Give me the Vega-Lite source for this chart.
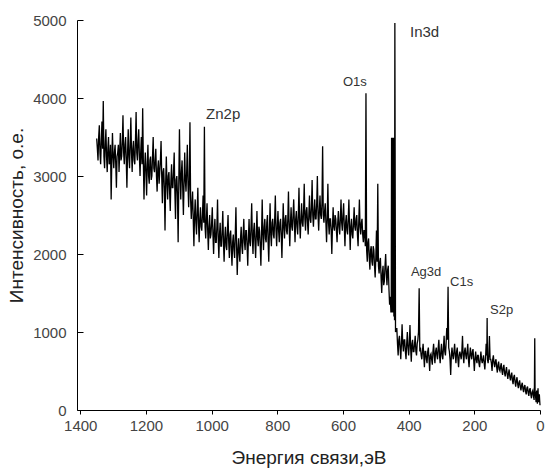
{
  "$schema": "https://vega.github.io/schema/vega-lite/v6.json",
  "width": 463,
  "height": 390,
  "autosize": {"type": "none"},
  "padding": {"left": 77, "top": 20, "right": 5, "bottom": 61},
  "background": "white",
  "config": {"view": {"stroke": null}},
  "datasets": {
    "spec": [
      {"e":1350,"i":3480},{"e":1348,"i":3350},{"e":1346,"i":3200},{"e":1344,"i":3500},{"e":1342,"i":3650},{"e":1340,"i":3300},{"e":1338,"i":3150},{"e":1336,"i":3450},{"e":1334,"i":3700},{"e":1332,"i":3350},{"e":1330,"i":3960},{"e":1328,"i":3250},{"e":1326,"i":3100},{"e":1324,"i":3400},{"e":1322,"i":3600},{"e":1320,"i":3250},{"e":1318,"i":3050},{"e":1316,"i":3350},{"e":1314,"i":3500},{"e":1312,"i":3150},{"e":1310,"i":3200},{"e":1308,"i":3400},{"e":1306,"i":2700},{"e":1304,"i":3200},{"e":1302,"i":3550},{"e":1300,"i":3250},{"e":1298,"i":3100},{"e":1296,"i":3300},{"e":1294,"i":3400},{"e":1292,"i":3150},{"e":1290,"i":2850},{"e":1288,"i":3250},{"e":1286,"i":3300},{"e":1284,"i":3400},{"e":1282,"i":3050},{"e":1280,"i":3300},{"e":1278,"i":3550},{"e":1276,"i":3200},{"e":1274,"i":3250},{"e":1272,"i":3450},{"e":1270,"i":3780},{"e":1268,"i":3300},{"e":1266,"i":3150},{"e":1264,"i":3400},{"e":1262,"i":3500},{"e":1260,"i":3200},{"e":1258,"i":2850},{"e":1256,"i":3300},{"e":1254,"i":3600},{"e":1252,"i":3250},{"e":1250,"i":3100},{"e":1248,"i":3400},{"e":1246,"i":3750},{"e":1244,"i":3300},{"e":1242,"i":3050},{"e":1240,"i":3350},{"e":1238,"i":3450},{"e":1236,"i":3200},{"e":1234,"i":3150},{"e":1232,"i":3450},{"e":1230,"i":3820},{"e":1228,"i":3300},{"e":1226,"i":3200},{"e":1224,"i":3450},{"e":1222,"i":3600},{"e":1220,"i":3250},{"e":1218,"i":3000},{"e":1216,"i":3300},{"e":1214,"i":3500},{"e":1212,"i":3150},{"e":1210,"i":3870},{"e":1208,"i":3200},{"e":1206,"i":2700},{"e":1204,"i":3100},{"e":1202,"i":3300},{"e":1200,"i":3050},
      {"e":1198,"i":2750},{"e":1196,"i":3150},{"e":1194,"i":3400},{"e":1192,"i":3000},{"e":1190,"i":2900},{"e":1188,"i":3200},{"e":1186,"i":3250},{"e":1184,"i":2950},{"e":1182,"i":3000},{"e":1180,"i":3250},{"e":1178,"i":3500},{"e":1176,"i":3100},{"e":1174,"i":3050},{"e":1172,"i":3200},{"e":1170,"i":3350},{"e":1168,"i":3000},{"e":1166,"i":2800},{"e":1164,"i":3100},{"e":1162,"i":3200},{"e":1160,"i":2900},{"e":1158,"i":3050},{"e":1156,"i":3200},{"e":1154,"i":3450},{"e":1152,"i":3000},{"e":1150,"i":2650},{"e":1148,"i":3050},{"e":1146,"i":3100},{"e":1144,"i":2850},{"e":1142,"i":2300},{"e":1140,"i":2900},{"e":1138,"i":3250},{"e":1136,"i":2900},{"e":1134,"i":2700},{"e":1132,"i":3000},{"e":1130,"i":3050},{"e":1128,"i":2800},{"e":1126,"i":2550},{"e":1124,"i":2950},{"e":1122,"i":3150},{"e":1120,"i":2850},{"e":1118,"i":2850},{"e":1116,"i":3050},{"e":1114,"i":3300},{"e":1112,"i":2800},{"e":1110,"i":2450},{"e":1108,"i":2950},{"e":1106,"i":3000},{"e":1104,"i":2750},{"e":1102,"i":2150},{"e":1100,"i":2900},
      {"e":1098,"i":3600},{"e":1096,"i":3000},{"e":1094,"i":2700},{"e":1092,"i":3050},{"e":1090,"i":3200},{"e":1088,"i":2850},{"e":1086,"i":2500},{"e":1084,"i":2900},{"e":1082,"i":3300},{"e":1080,"i":2950},{"e":1078,"i":2800},{"e":1076,"i":3050},{"e":1074,"i":3400},{"e":1072,"i":2900},{"e":1070,"i":2600},{"e":1068,"i":2950},{"e":1066,"i":3690},{"e":1064,"i":2700},{"e":1062,"i":2450},{"e":1060,"i":2650},{"e":1058,"i":2800},{"e":1056,"i":2450},{"e":1054,"i":2100},{"e":1052,"i":2500},{"e":1050,"i":2700},{"e":1048,"i":2400},{"e":1046,"i":2250},{"e":1044,"i":2550},{"e":1042,"i":2850},{"e":1040,"i":2400},{"e":1038,"i":2150},{"e":1036,"i":2450},{"e":1034,"i":2600},{"e":1032,"i":2350},{"e":1030,"i":2300},{"e":1028,"i":2500},{"e":1026,"i":2750},{"e":1024,"i":2400},{"e":1022,"i":3630},{"e":1020,"i":2350},{"e":1018,"i":2200},{"e":1016,"i":2450},{"e":1014,"i":2650},{"e":1012,"i":2300},{"e":1010,"i":2050},{"e":1008,"i":2350},{"e":1006,"i":2500},{"e":1004,"i":2200},{"e":1002,"i":2250},{"e":1000,"i":2400},
      {"e":998,"i":2600},{"e":996,"i":2250},{"e":994,"i":2000},{"e":992,"i":2300},{"e":990,"i":2450},{"e":988,"i":2150},{"e":986,"i":2150},{"e":984,"i":2350},{"e":982,"i":2700},{"e":980,"i":2200},{"e":978,"i":1950},{"e":976,"i":2250},{"e":974,"i":2400},{"e":972,"i":2100},{"e":970,"i":2100},{"e":968,"i":2300},{"e":966,"i":2550},{"e":964,"i":2150},{"e":962,"i":1900},{"e":960,"i":2200},{"e":958,"i":2350},{"e":956,"i":2100},{"e":954,"i":2050},{"e":952,"i":2300},{"e":950,"i":2500},{"e":948,"i":2150},{"e":946,"i":1950},{"e":944,"i":2250},{"e":942,"i":2300},{"e":940,"i":2050},{"e":938,"i":1850},{"e":936,"i":2150},{"e":934,"i":2250},{"e":932,"i":2050},{"e":930,"i":1950},{"e":928,"i":2250},{"e":926,"i":2600},{"e":924,"i":2100},{"e":922,"i":1730},{"e":920,"i":2050},{"e":918,"i":2200},{"e":916,"i":2000},{"e":914,"i":1900},{"e":912,"i":2200},{"e":910,"i":2350},{"e":908,"i":2100},{"e":906,"i":2000},{"e":904,"i":2250},{"e":902,"i":2450},{"e":900,"i":2150},
      {"e":898,"i":2050},{"e":896,"i":2300},{"e":894,"i":2300},{"e":892,"i":2100},{"e":890,"i":1850},{"e":888,"i":2200},{"e":886,"i":2450},{"e":884,"i":2150},{"e":882,"i":2100},{"e":880,"i":2350},{"e":878,"i":2650},{"e":876,"i":2200},{"e":874,"i":2000},{"e":872,"i":2300},{"e":870,"i":2400},{"e":868,"i":2150},{"e":866,"i":1950},{"e":864,"i":2250},{"e":862,"i":2550},{"e":860,"i":2200},{"e":858,"i":2100},{"e":856,"i":2350},{"e":854,"i":2300},{"e":852,"i":2100},{"e":850,"i":1850},{"e":848,"i":2250},{"e":846,"i":2700},{"e":844,"i":2250},{"e":842,"i":2050},{"e":840,"i":2350},{"e":838,"i":2450},{"e":836,"i":2200},{"e":834,"i":2150},{"e":832,"i":2400},{"e":830,"i":2500},{"e":828,"i":2150},{"e":826,"i":1900},{"e":824,"i":2300},{"e":822,"i":2650},{"e":820,"i":2250},{"e":818,"i":2100},{"e":816,"i":2400},{"e":814,"i":2450},{"e":812,"i":2250},{"e":810,"i":2200},{"e":808,"i":2450},{"e":806,"i":2750},{"e":804,"i":2300},{"e":802,"i":2100},{"e":800,"i":2350},
      {"e":798,"i":2550},{"e":796,"i":2300},{"e":794,"i":2150},{"e":792,"i":2400},{"e":790,"i":2450},{"e":788,"i":2250},{"e":786,"i":1950},{"e":784,"i":2300},{"e":782,"i":2650},{"e":780,"i":2350},{"e":778,"i":2200},{"e":776,"i":2450},{"e":774,"i":2500},{"e":772,"i":2300},{"e":770,"i":2250},{"e":768,"i":2450},{"e":766,"i":2800},{"e":764,"i":2350},{"e":762,"i":2100},{"e":760,"i":2400},{"e":758,"i":2600},{"e":756,"i":2350},{"e":754,"i":2300},{"e":752,"i":2500},{"e":750,"i":2700},{"e":748,"i":2400},{"e":746,"i":2150},{"e":744,"i":2450},{"e":742,"i":2550},{"e":740,"i":2350},{"e":738,"i":2250},{"e":736,"i":2500},{"e":734,"i":2850},{"e":732,"i":2400},{"e":730,"i":2200},{"e":728,"i":2450},{"e":726,"i":2650},{"e":724,"i":2400},{"e":722,"i":2350},{"e":720,"i":2550},{"e":718,"i":2900},{"e":716,"i":2450},{"e":714,"i":2300},{"e":712,"i":2550},{"e":710,"i":2600},{"e":708,"i":2400},{"e":706,"i":2250},{"e":704,"i":2500},{"e":702,"i":2750},{"e":700,"i":2450},
      {"e":698,"i":2400},{"e":696,"i":2600},{"e":694,"i":2950},{"e":692,"i":2500},{"e":690,"i":2350},{"e":688,"i":2550},{"e":686,"i":2700},{"e":684,"i":2450},{"e":682,"i":2450},{"e":680,"i":2650},{"e":678,"i":3000},{"e":676,"i":2500},{"e":674,"i":2300},{"e":672,"i":2550},{"e":670,"i":2750},{"e":668,"i":2500},{"e":666,"i":2450},{"e":664,"i":2650},{"e":662,"i":3380},{"e":660,"i":2500},{"e":658,"i":2400},{"e":656,"i":2550},{"e":654,"i":2650},{"e":652,"i":2400},{"e":650,"i":2150},{"e":648,"i":2450},{"e":646,"i":2900},{"e":644,"i":2400},{"e":642,"i":2250},{"e":640,"i":2450},{"e":638,"i":2450},{"e":636,"i":2300},{"e":634,"i":2000},{"e":632,"i":2350},{"e":630,"i":2600},{"e":628,"i":2350},{"e":626,"i":2300},{"e":624,"i":2500},{"e":622,"i":2450},{"e":620,"i":2300},{"e":618,"i":2150},{"e":616,"i":2400},{"e":614,"i":2550},{"e":612,"i":2350},{"e":610,"i":2250},{"e":608,"i":2450},{"e":606,"i":2700},{"e":604,"i":2400},{"e":602,"i":2300},{"e":600,"i":2500},
      {"e":598,"i":2650},{"e":596,"i":2350},{"e":594,"i":2100},{"e":592,"i":2400},{"e":590,"i":2500},{"e":588,"i":2300},{"e":586,"i":2250},{"e":584,"i":2450},{"e":582,"i":2700},{"e":580,"i":2350},{"e":578,"i":2050},{"e":576,"i":2350},{"e":574,"i":2450},{"e":572,"i":2250},{"e":570,"i":2200},{"e":568,"i":2400},{"e":566,"i":2600},{"e":564,"i":2350},{"e":562,"i":2300},{"e":560,"i":2450},{"e":558,"i":2500},{"e":556,"i":2250},{"e":554,"i":2100},{"e":552,"i":2400},{"e":550,"i":2700},{"e":548,"i":2350},{"e":546,"i":2250},{"e":544,"i":2400},{"e":542,"i":2450},{"e":540,"i":2250},{"e":538,"i":2150},{"e":536,"i":2300},
      {"e":534,"i":2300},{"e":532,"i":2100},{"e":530,"i":4060},{"e":528,"i":2050},{"e":526,"i":1900},{"e":524,"i":2150},{"e":522,"i":2200},{"e":520,"i":1950},{"e":518,"i":1800},{"e":516,"i":2050},{"e":514,"i":2100},{"e":512,"i":1900},{"e":510,"i":1850},{"e":508,"i":2100},{"e":506,"i":2050},{"e":504,"i":1850},{"e":502,"i":1700},{"e":500,"i":1950},{"e":498,"i":2300},{"e":496,"i":1900},{"e":494,"i":2900},{"e":492,"i":1850},{"e":490,"i":1750},{"e":488,"i":1900},{"e":486,"i":1950},{"e":484,"i":1700},{"e":482,"i":1500},{"e":480,"i":1750},{"e":478,"i":1850},{"e":476,"i":1600},{"e":474,"i":1650},{"e":472,"i":1850},{"e":470,"i":2000},{"e":468,"i":1750},{"e":466,"i":1600},{"e":464,"i":1800},{"e":462,"i":1850},{"e":460,"i":1550},{"e":458,"i":1350},{"e":456,"i":1450},{"e":454,"i":1250},
      {"e":453,"i":1300},{"e":452,"i":3490},{"e":451,"i":1250},{"e":450,"i":3490},{"e":449,"i":1300},{"e":448,"i":3490},{"e":447,"i":1250},{"e":446,"i":3490},{"e":445,"i":1200},{"e":444,"i":3490},{"e":443,"i":1150},{"e":442,"i":4960},{"e":440,"i":1000},
      {"e":436,"i":1050},{"e":434,"i":850},{"e":432,"i":700},{"e":430,"i":900},{"e":428,"i":950},{"e":426,"i":800},{"e":424,"i":650},{"e":422,"i":850},{"e":420,"i":1100},{"e":418,"i":850},{"e":416,"i":750},{"e":414,"i":900},{"e":412,"i":900},{"e":410,"i":750},{"e":408,"i":650},{"e":406,"i":850},{"e":404,"i":1000},{"e":402,"i":800},{"e":400,"i":700},{"e":398,"i":850},{"e":396,"i":1090},{"e":394,"i":800},{"e":392,"i":620},{"e":390,"i":850},{"e":388,"i":900},{"e":386,"i":750},{"e":384,"i":750},{"e":382,"i":850},{"e":380,"i":950},{"e":378,"i":750},{"e":376,"i":700},{"e":374,"i":850},{"e":372,"i":900},{"e":370,"i":1000},{"e":368,"i":1560},{"e":366,"i":750},{"e":364,"i":800},{"e":362,"i":700},{"e":360,"i":650},{"e":358,"i":750},{"e":356,"i":850},{"e":354,"i":700},{"e":352,"i":550},{"e":350,"i":750},{"e":348,"i":750},{"e":346,"i":650},{"e":344,"i":600},{"e":342,"i":750},{"e":340,"i":800},{"e":338,"i":650},{"e":336,"i":500},{"e":334,"i":700},{"e":332,"i":720},{"e":330,"i":650},{"e":328,"i":580},{"e":326,"i":750},{"e":324,"i":850},{"e":322,"i":700},{"e":320,"i":600},{"e":318,"i":750},{"e":316,"i":800},{"e":314,"i":700},{"e":312,"i":650},{"e":310,"i":800},{"e":308,"i":900},{"e":306,"i":700},{"e":304,"i":600},{"e":302,"i":750},{"e":300,"i":850},{"e":298,"i":700},{"e":296,"i":650},{"e":294,"i":800},{"e":292,"i":950},{"e":290,"i":750},{"e":288,"i":700},{"e":286,"i":850},{"e":284,"i":1050},{"e":282,"i":900},{"e":280,"i":1580},{"e":278,"i":800},{"e":276,"i":750},{"e":274,"i":650},{"e":272,"i":450},{"e":270,"i":700},{"e":268,"i":800},{"e":266,"i":700},{"e":264,"i":650},{"e":262,"i":750},{"e":260,"i":850},{"e":258,"i":700},{"e":256,"i":600},{"e":254,"i":750},{"e":252,"i":800},{"e":250,"i":650},{"e":248,"i":550},{"e":246,"i":700},{"e":244,"i":750},{"e":242,"i":700},{"e":240,"i":650},{"e":238,"i":750},{"e":236,"i":950},{"e":234,"i":700},{"e":232,"i":600},{"e":230,"i":750},{"e":228,"i":800},{"e":226,"i":700},{"e":224,"i":650},{"e":222,"i":750},{"e":220,"i":850},{"e":218,"i":650},{"e":216,"i":550},{"e":214,"i":700},{"e":212,"i":800},{"e":210,"i":700},{"e":208,"i":650},{"e":206,"i":750},{"e":204,"i":780},{"e":202,"i":650},{"e":200,"i":500},{"e":198,"i":650},{"e":196,"i":750},{"e":194,"i":650},{"e":192,"i":600},{"e":190,"i":700},{"e":188,"i":700},{"e":186,"i":600},{"e":184,"i":550},{"e":182,"i":650},{"e":180,"i":750},{"e":178,"i":650},{"e":176,"i":600},{"e":174,"i":650},{"e":172,"i":700},{"e":170,"i":600},{"e":168,"i":520},{"e":166,"i":650},{"e":164,"i":850},{"e":162,"i":700},{"e":161,"i":1180},{"e":160,"i":650},{"e":158,"i":600},{"e":156,"i":700},{"e":154,"i":950},{"e":152,"i":650},{"e":150,"i":650},{"e":148,"i":600},{"e":146,"i":500},{"e":144,"i":650},{"e":142,"i":700},{"e":140,"i":600},{"e":138,"i":550},{"e":136,"i":620},{"e":134,"i":650},{"e":132,"i":550},{"e":130,"i":480},{"e":128,"i":580},{"e":126,"i":620},{"e":124,"i":520},{"e":122,"i":500},{"e":120,"i":560},{"e":118,"i":600},{"e":116,"i":500},{"e":114,"i":450},{"e":112,"i":540},{"e":110,"i":580},{"e":108,"i":480},{"e":106,"i":430},{"e":104,"i":500},{"e":102,"i":550},{"e":100,"i":460},{"e":98,"i":400},{"e":96,"i":470},{"e":94,"i":520},{"e":92,"i":430},{"e":90,"i":380},{"e":88,"i":440},{"e":86,"i":480},{"e":84,"i":380},{"e":82,"i":330},{"e":80,"i":420},{"e":78,"i":450},{"e":76,"i":360},{"e":74,"i":300},{"e":72,"i":380},{"e":70,"i":420},{"e":68,"i":330},{"e":66,"i":280},{"e":64,"i":350},{"e":62,"i":380},{"e":60,"i":300},{"e":58,"i":250},{"e":56,"i":320},{"e":54,"i":350},{"e":52,"i":270},{"e":50,"i":230},{"e":48,"i":300},{"e":46,"i":320},{"e":44,"i":240},{"e":42,"i":200},{"e":40,"i":280},{"e":38,"i":300},{"e":36,"i":220},{"e":34,"i":180},{"e":32,"i":260},{"e":30,"i":280},{"e":28,"i":200},{"e":26,"i":150},{"e":24,"i":230},{"e":22,"i":250},{"e":20,"i":180},{"e":18,"i":130},{"e":17,"i":300},{"e":16,"i":920},{"e":15,"i":250},{"e":14,"i":200},{"e":13,"i":150},{"e":12,"i":100},{"e":11,"i":200},{"e":10,"i":250},{"e":9,"i":150},{"e":8,"i":80},{"e":7,"i":200},{"e":6,"i":280},{"e":5,"i":150},{"e":4,"i":100},{"e":3,"i":180},{"e":2,"i":200},{"e":1,"i":120},{"e":0,"i":60}
    ],
    "labels": [
      {"e":1017,"i":3795,"label":"Zn2p","fs":15},
      {"e":600,"i":4205,"label":"O1s","fs":13},
      {"e":396,"i":4846,"label":"In3d","fs":15},
      {"e":393,"i":1769,"label":"Ag3d","fs":13},
      {"e":274,"i":1641,"label":"C1s","fs":13},
      {"e":152,"i":1282,"label":"S2p","fs":13}
    ]
  },
  "layer": [
    {
      "data": {"name": "spec"},
      "mark": {"type": "line", "color": "#000000", "strokeWidth": 1.3, "interpolate": "linear"},
      "encoding": {
        "x": {
          "field": "e", "type": "quantitative",
          "scale": {"domain": [0, 1410], "reverse": true, "nice": false, "zero": false},
          "axis": {
            "title": "Энергия связи,эВ",
            "values": [0,100,200,300,400,500,600,700,800,900,1000,1100,1200,1300,1400],
            "labelExpr": "datum.value % 200 === 0 ? format(datum.value, 'd') : ''",
            "grid": false,
            "domainColor": "#000000",
            "tickColor": "#000000",
            "tickSize": {"condition": {"test": "datum.value % 200 === 0", "value": 4}, "value": 2},
            "labelPadding": 4,
            "labelFont": "Liberation Sans",
            "labelFontSize": 15,
            "labelColor": "#444444",
            "labelFlush": false,
            "labelOverlap": false,
            "titleFont": "Liberation Sans",
            "titleFontSize": 19,
            "titleFontWeight": "normal",
            "titleColor": "#222222",
            "titlePadding": 15
          }
        },
        "y": {
          "field": "i", "type": "quantitative",
          "scale": {"domain": [0, 5000], "nice": false, "zero": false},
          "axis": {
            "title": "Интенсивность, о.е.",
            "values": [0,500,1000,1500,2000,2500,3000,3500,4000,4500,5000],
            "labelExpr": "datum.value % 1000 === 0 ? format(datum.value, 'd') : ''",
            "grid": false,
            "domainColor": "#000000",
            "tickColor": "#000000",
            "tickSize": {"condition": {"test": "datum.value % 1000 === 0", "value": -6}, "value": -3},
            "labelPadding": 17,
            "labelFont": "Liberation Sans",
            "labelFontSize": 15,
            "labelColor": "#444444",
            "labelFlush": false,
            "labelOverlap": false,
            "titleFont": "Liberation Sans",
            "titleFontSize": 19,
            "titleFontWeight": "normal",
            "titleColor": "#222222",
            "titlePadding": 6
          }
        }
      }
    },
    {
      "data": {"name": "labels"},
      "mark": {"type": "text", "align": "left", "baseline": "middle", "font": "Liberation Sans", "color": "#333333"},
      "encoding": {
        "x": {"field": "e", "type": "quantitative"},
        "y": {"field": "i", "type": "quantitative"},
        "text": {"field": "label"},
        "size": {"field": "fs", "type": "quantitative", "scale": null}
      }
    }
  ]
}
